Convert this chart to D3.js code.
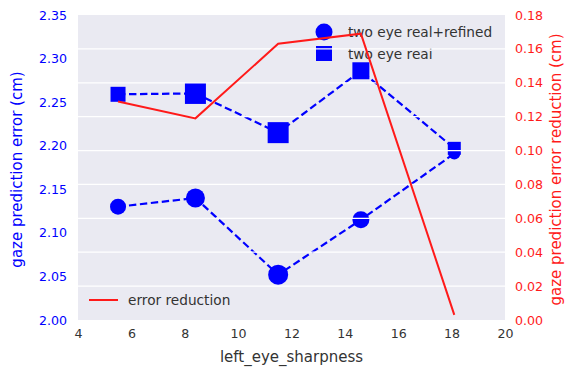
<!DOCTYPE html>
<html><head><meta charset="utf-8">
<script src="https://cdn.jsdelivr.net/npm/d3@7"></script>
<style>body{margin:0;background:#fff;} text{font-family:"DejaVu Sans",sans-serif;}</style>
</head><body>
<svg id="c" width="570" height="368"></svg>
<script>
const sharpness = [5.5, 8.4, 11.5, 14.6, 18.1];
const realRefined = [2.130, 2.140, 2.052, 2.115, 2.191];
const real = [2.259, 2.260, 2.215, 2.286, 2.197];
const errorReduction = [0.129, 0.119, 0.163, 0.169, 0.003];
const circleSizes = [16, 19, 20, 17, 12];
const squareSizes = [15, 21, 21, 17, 13];
const xTicks = [4, 6, 8, 10, 12, 14, 16, 18, 20];
const leftTicks = [2.00, 2.05, 2.10, 2.15, 2.20, 2.25, 2.30, 2.35];
const rightTicks = [0.00, 0.02, 0.04, 0.06, 0.08, 0.10, 0.12, 0.14, 0.16, 0.18];

const svg = d3.select("#c");
const L = 78, R = 505, T = 15, B = 320;
const x = d3.scaleLinear().domain([4, 20]).range([L, R]);
const yL = d3.scaleLinear().domain([2.00, 2.35]).range([B, T]);
const yR = d3.scaleLinear().domain([0, 0.18]).range([B, T]);

svg.append("rect").attr("x", L).attr("y", T).attr("width", R - L).attr("height", B - T).attr("fill", "#eaeaf2");

const blue = "#0000ff", red = "#ff1a1a";
const line = d3.line().x(d => x(d[0])).y(d => yL(d[1]));
const dsR = sharpness.map((s, i) => [s, realRefined[i]]);
const dsQ = sharpness.map((s, i) => [s, real[i]]);
[dsR, dsQ].forEach(ds => {
  svg.append("path").attr("d", line(ds)).attr("fill", "none").attr("stroke", blue)
    .attr("stroke-width", 2.2).attr("stroke-dasharray", "7.4,3.6");
});
svg.selectAll(".circ").data(dsR).enter().append("circle")
  .attr("cx", d => x(d[0])).attr("cy", d => yL(d[1])).attr("r", (d, i) => circleSizes[i] / 2).attr("fill", blue);
svg.selectAll(".sq").data(dsQ).enter().append("rect")
  .attr("x", (d, i) => x(d[0]) - squareSizes[i] / 2).attr("y", (d, i) => yL(d[1]) - squareSizes[i] / 2)
  .attr("width", (d, i) => squareSizes[i]).attr("height", (d, i) => squareSizes[i]).attr("fill", blue);

// legend (ax1)
const lg = svg.append("g");
lg.append("circle").attr("cx", 324).attr("cy", 32).attr("r", 8.5).attr("fill", blue);
lg.append("rect").attr("x", 316).attr("y", 46).attr("width", 16).attr("height", 15).attr("fill", blue);
lg.append("text").attr("x", 348).attr("y", 32).attr("dy", "0.35em").attr("font-size", 13.7).attr("fill", "#333").text("two eye real+refined");
lg.append("text").attr("x", 348).attr("y", 54).attr("dy", "0.35em").attr("font-size", 13.7).attr("fill", "#333").text("two eye reai");

// grid (right axis)
svg.append("g").selectAll("line").data(rightTicks.slice(1, -1)).enter().append("line")
  .attr("x1", L).attr("x2", R).attr("y1", d => yR(d)).attr("y2", d => yR(d))
  .attr("stroke", "#fff").attr("stroke-width", 1.2);

// red line
svg.append("path").attr("d", d3.line().x(d => x(d[0])).y(d => yR(d[1]))(sharpness.map((s, i) => [s, errorReduction[i]])))
  .attr("fill", "none").attr("stroke", red).attr("stroke-width", 2);

svg.append("line").attr("x1", 89).attr("x2", 118).attr("y1", 300).attr("y2", 300).attr("stroke", red).attr("stroke-width", 2);
svg.append("text").attr("x", 128).attr("y", 300).attr("dy", "0.35em").attr("font-size", 13.7).attr("fill", "#333").text("error reduction");

// axes
const xa = svg.append("g").attr("transform", `translate(0,${B})`)
  .call(d3.axisBottom(x).tickValues(xTicks).tickSize(0).tickPadding(9).tickFormat(d3.format("d")));
xa.select(".domain").remove();
xa.selectAll("text").attr("font-size", 12.6).attr("fill", "#333").attr("font-family", "DejaVu Sans");

const la = svg.append("g").attr("transform", `translate(${L},0)`)
  .call(d3.axisLeft(yL).tickValues(leftTicks).tickSize(0).tickPadding(11).tickFormat(d3.format(".2f")));
la.select(".domain").remove();
la.selectAll("text").attr("font-size", 12.6).attr("fill", blue).attr("font-family", "DejaVu Sans");

const ra = svg.append("g").attr("transform", `translate(${R},0)`)
  .call(d3.axisRight(yR).tickValues(rightTicks).tickSize(0).tickPadding(10).tickFormat(d3.format(".2f")));
ra.select(".domain").remove();
ra.selectAll("text").attr("font-size", 12.6).attr("fill", red).attr("font-family", "DejaVu Sans");

svg.append("text").attr("x", (L + R) / 2).attr("y", 357).attr("dy", "0.35em").attr("text-anchor", "middle")
  .attr("font-size", 15).attr("fill", "#333").text("left_eye_sharpness");
svg.append("text").attr("transform", `translate(17,${(T + B) / 2 + 2}) rotate(-90)`).attr("dy", "0.35em").attr("text-anchor", "middle")
  .attr("font-size", 15).attr("fill", blue).text("gaze prediction error (cm)");
svg.append("text").attr("transform", `translate(556,${(T + B) / 2 + 2}) rotate(-90)`).attr("dy", "0.35em").attr("text-anchor", "middle")
  .attr("font-size", 15).attr("fill", red).text("gaze prediction error reduction (cm)");
</script>
</body></html>
